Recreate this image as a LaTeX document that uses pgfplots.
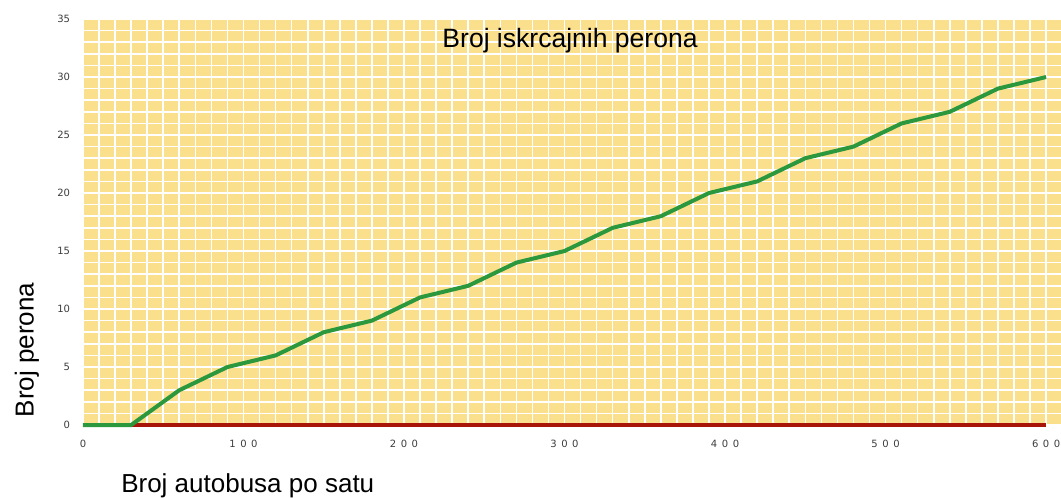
\documentclass[border=0pt]{standalone}
\usepackage{fontspec}
\setmainfont{Liberation Sans}
\newfontfamily\tickfont{DejaVu Sans}
\usepackage{pgfplots}
\pgfplotsset{compat=1.18}
\definecolor{bgyellow}{RGB}{250,223,140}
\definecolor{lgreen}{RGB}{44,152,62}
\definecolor{lred}{RGB}{168,22,10}
\definecolor{tickgray}{RGB}{60,60,60}
\newcommand{\ls}{\kern3.4pt}
\begin{document}
\begin{tikzpicture}
\begin{axis}[
  scale only axis,
  width=733.5pt, height=304.5pt,
  xmin=0, xmax=609.3, ymin=0, ymax=35,
  axis line style={draw=none},
  axis background/.style={fill=bgyellow},
  /pgf/number format/assume math mode=true,
  xtick={0,100,200,300,400,500,600},
  xticklabels={0,1\ls0\ls0,2\ls0\ls0,3\ls0\ls0,4\ls0\ls0,5\ls0\ls0,6\ls0\ls0},
  ytick={0,5,10,15,20,25,30,35},
  minor xtick={0,10,...,600},
  minor ytick={0,1,...,35},
  grid=both,
  major grid style={white, line width=1.2pt},
  minor grid style={white, line width=1.2pt},
  major tick length=0pt, minor tick length=0pt,
  xticklabel style={font=\tickfont\fontsize{7.5}{8}\selectfont, text=tickgray, inner sep=0pt, anchor=north, yshift=-11pt},
  yticklabel style={font=\tickfont\fontsize{7.5}{8}\selectfont, text=tickgray, inner sep=0pt, anchor=east, xshift=-9.5pt},
  title={Broj iskrcajnih perona},
  title style={at={(axis description cs:0.498,0.909)}, anchor=base, inner sep=0pt, font=\fontsize{19.9}{22}\selectfont},
  xlabel={Broj autobusa po satu},
  xlabel style={at={(axis description cs:0.0389,-0.165)}, anchor=base west, inner sep=0pt, font=\fontsize{19.5}{22}\selectfont},
  ylabel={Broj perona},
  ylabel style={at={(axis description cs:-0.0573,0.185)}, anchor=center, inner sep=0pt, font=\fontsize{19.5}{22}\selectfont},
  clip=false,
]
\addplot[lred, line width=3pt] coordinates {(30,0) (600,0)};
\addplot[lgreen, line width=3pt] coordinates {
(0,0) (30,0) (60,3) (90,5) (120,6) (150,8) (180,9) (210,11) (240,12) (270,14)
(300,15) (330,17) (360,18) (390,20) (420,21) (450,23) (480,24) (510,26) (540,27)
(570,29) (600,30)};
\coordinate (bl) at (axis cs:-51.7,-6.207);
\coordinate (tr) at (axis cs:609.3,36.64);
\end{axis}
\pgfresetboundingbox
\useasboundingbox (bl) rectangle (tr);
\end{tikzpicture}
\end{document}
